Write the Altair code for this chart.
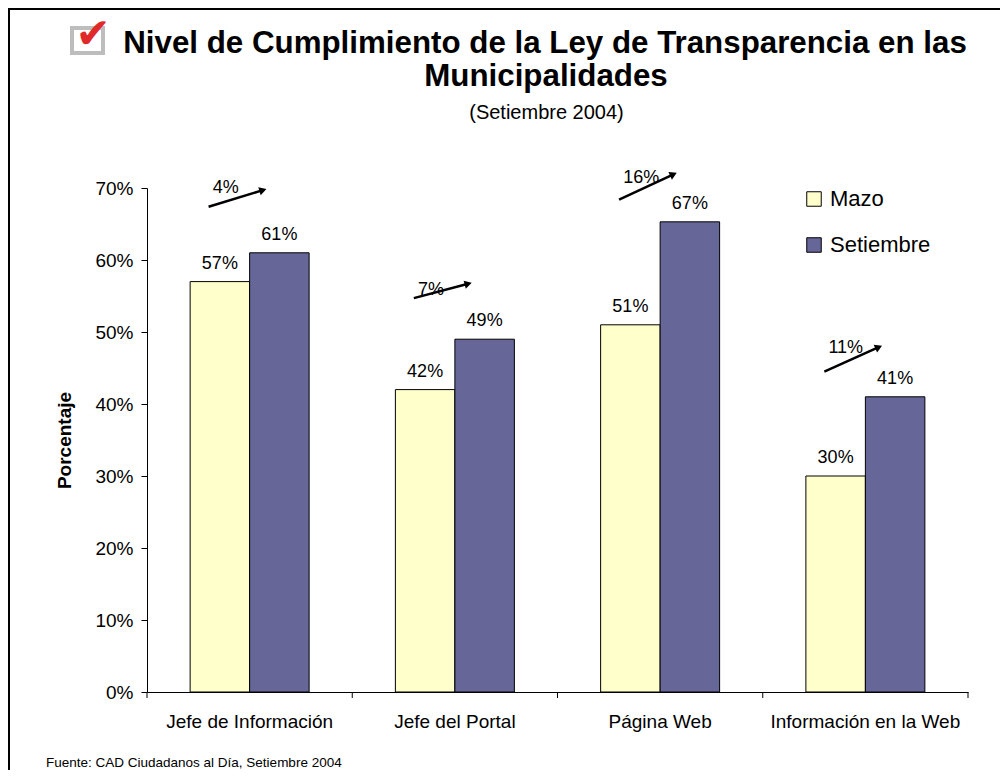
import altair as alt
import pandas as pd

FONT = "Liberation Sans"

categories = ["Jefe de Información", "Jefe del Portal", "Página Web", "Información en la Web"]
series = ["Mazo", "Setiembre"]
mazo = [57, 42, 51, 30]
setiembre = [61, 49, 65.3, 41]
mazo_labels = ["57%", "42%", "51%", "30%"]
setiembre_labels = ["61%", "49%", "67%", "41%"]
colors = ["#FFFFCC", "#666699"]

change_labels = ["4%", "7%", "16%", "11%"]
arrow_from = [67.4, 54.7, 68.4, 44.5]
arrow_to = [69.7, 56.7, 71.9, 47.9]
change_label_y = [69.3, 55.1, 70.7, 47.1]

title_line1 = "Nivel de Cumplimiento de la Ley de Transparencia en las"
title_line2 = "Municipalidades"
subtitle = "(Setiembre 2004)"
footer = "Fuente: CAD Ciudadanos al Día, Setiembre 2004"
y_title = "Porcentaje"

W, H = 821, 504
PAD_L, PAD_T, PAD_R, PAD_B = 139, 180, 32, 78

rows = []
for i, c in enumerate(categories):
    rows.append({"cat": c, "serie": series[0], "value": mazo[i], "label": mazo_labels[i]})
    rows.append({"cat": c, "serie": series[1], "value": setiembre[i], "label": setiembre_labels[i]})
bars_df = pd.DataFrame(rows)

arrows_df = pd.DataFrame({
    "i": list(range(len(categories))),
    "y0": arrow_from,
    "y1": arrow_to,
    "ly": change_label_y,
    "label": change_labels,
})

x_axis = alt.Axis(title=None, labelAngle=0, ticks=False, labelFontSize=19,
                  labelFont=FONT, labelColor="black", labelPadding=20, labelLimit=400,
                  domainColor="black", domainWidth=1)
x_scale = alt.Scale(paddingInner=0, paddingOuter=0)
x_enc = alt.X("cat:N", sort=categories, scale=x_scale, axis=x_axis)
xoff = alt.XOffset("serie:N", sort=series,
                   scale=alt.Scale(paddingOuter=0.725, paddingInner=0))
y_enc = alt.Y("value:Q", scale=alt.Scale(domain=[0, 70], nice=False),
              axis=alt.Axis(values=[0, 10, 20, 30, 40, 50, 60, 70],
                            labelExpr="datum.value + '%'", grid=False,
                            title=y_title, titleFont=FONT, titleFontSize=19,
                            titleFontWeight="bold", titleColor="black", titlePadding=20,
                            labelFont=FONT, labelFontSize=19, labelColor="black",
                            labelPadding=8, tickSize=6, tickColor="black",
                            domainColor="black"))

bars = alt.Chart(bars_df).mark_bar(stroke="black", strokeWidth=1).encode(
    x=x_enc,
    xOffset=xoff,
    y=y_enc,
    color=alt.Color("serie:N", sort=series,
                    scale=alt.Scale(domain=series, range=colors),
                    legend=alt.Legend(title=None, orient="none", legendX=656, legendY=0,
                                      symbolType="square", symbolSize=210,
                                      symbolStrokeColor="black", symbolStrokeWidth=1,
                                      labelFont=FONT, labelFontSize=22, labelColor="black",
                                      labelOffset=5, rowPadding=24, padding=0)),
)

bar_labels = alt.Chart(bars_df).mark_text(
    font=FONT, fontSize=18, color="black", baseline="alphabetic", dy=-13
).encode(
    x=x_enc, xOffset=xoff, y=alt.Y("value:Q"), text="label:N"
)

xticks = alt.Chart(pd.DataFrame({"cat": categories})).mark_rule(color="black").encode(
    x=alt.X("cat:N", sort=categories, scale=x_scale, axis=x_axis, bandPosition=0),
    y=alt.value(H), y2=alt.value(H + 6),
)
end_tick = alt.Chart(alt.Data(values=[{}])).mark_rule(color="black").encode(
    x=alt.value(W), y=alt.value(H), y2=alt.value(H + 6)
)

main = alt.layer(bars, bar_labels, xticks, end_tick)

xq = alt.Scale(domain=[0, 4], nice=False, zero=False)
arrow_base = alt.Chart(arrows_df).transform_calculate(
    x0="datum.i + 0.30", x1="datum.i + 0.565", lx="datum.i + 0.32",
    ang="360 - atan2((datum.y1 - datum.y0) * %f / 70, 0.265 * %f / 4) * 180 / PI" % (H, W),
)
arrow_lines = arrow_base.mark_rule(color="black", strokeWidth=2.5).encode(
    x=alt.X("x0:Q", scale=xq, axis=None), x2="x1:Q",
    y=alt.Y("y0:Q"), y2="y1:Q",
)
arrow_heads = arrow_base.mark_point(shape="triangle-right", filled=True, size=70,
                                    color="black", opacity=1).encode(
    x=alt.X("x1:Q", scale=xq, axis=None), y=alt.Y("y1:Q"),
    angle=alt.Angle("ang:Q", scale=None),
)
arrow_text = arrow_base.mark_text(font=FONT, fontSize=18, color="black",
                                  align="left", baseline="alphabetic").encode(
    x=alt.X("lx:Q", scale=xq, axis=None), y=alt.Y("ly:Q"), text="label:N"
)
arrows = alt.layer(arrow_lines, arrow_heads, arrow_text)

one = alt.Data(values=[{}])
t1 = alt.Chart(one).mark_text(font=FONT, fontSize=31.3, fontWeight="bold", color="black",
                              align="center", baseline="alphabetic").encode(
    x=alt.value(398), y=alt.value(-134.7), text=alt.value(title_line1))
t2 = alt.Chart(one).mark_text(font=FONT, fontSize=31.3, fontWeight="bold", color="black",
                              align="center", baseline="alphabetic").encode(
    x=alt.value(399), y=alt.value(-102.3), text=alt.value(title_line2))
t3 = alt.Chart(one).mark_text(font=FONT, fontSize=20, color="black",
                              align="center", baseline="alphabetic").encode(
    x=alt.value(399.5), y=alt.value(-69), text=alt.value(subtitle))
foot = alt.Chart(one).mark_text(font=FONT, fontSize=13.5, color="black",
                                align="left", baseline="alphabetic").encode(
    x=alt.value(-101), y=alt.value(579), text=alt.value(footer))
icon_box = alt.Chart(one).mark_rect(fill="white", stroke="#BDBDBD", strokeWidth=4).encode(
    x=alt.value(-75), x2=alt.value(-44), y=alt.value(-160), y2=alt.value(-135))
icon_check = alt.Chart(one).mark_text(font="DejaVu Sans", fontSize=42, color="#E02A2A",
                                      align="center", baseline="middle").encode(
    x=alt.value(-54), y=alt.value(-153), text=alt.value("✔"))
border_left = alt.Chart(one).mark_rect(color="black").encode(
    x=alt.value(-PAD_L), x2=alt.value(-PAD_L + 2), y=alt.value(-PAD_T), y2=alt.value(H + PAD_B))
border_top = alt.Chart(one).mark_rect(color="black").encode(
    x=alt.value(-PAD_L), x2=alt.value(W + PAD_R), y=alt.value(-PAD_T), y2=alt.value(-PAD_T + 2))

chart = alt.layer(
    main, arrows, t1, t2, t3, foot, icon_box, icon_check, border_left, border_top
).resolve_scale(x="independent").properties(
    width=W, height=H,
    autosize=alt.AutoSizeParams(type="none"),
    padding={"left": PAD_L, "top": PAD_T, "right": PAD_R, "bottom": PAD_B},
    background="white",
).configure_view(strokeWidth=0)

chart.save("out.html", embed_options={"renderer": "svg", "actions": False})
